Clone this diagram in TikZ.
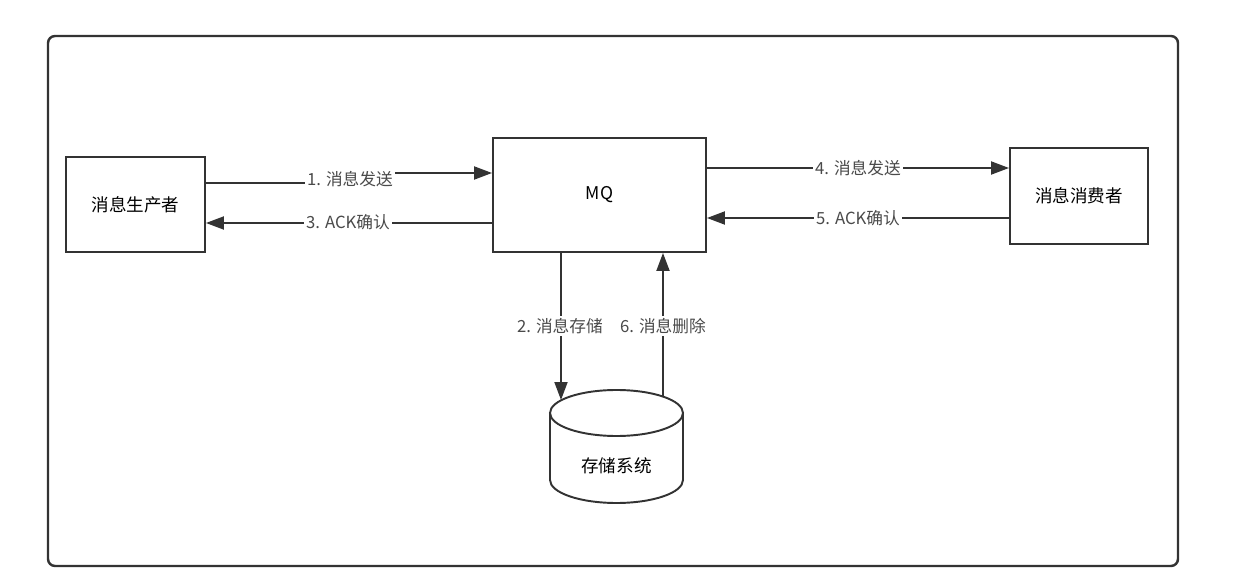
\documentclass[tikz,border=0pt]{standalone}
\usepackage{fontspec}
\setmainfont{Noto Sans CJK SC}
\usepackage{tikz}
\usetikzlibrary{arrows.meta}
\definecolor{edge}{HTML}{333333}
\definecolor{labeltext}{HTML}{4A4A4A}
\tikzset{
  box/.style={rectangle, draw=edge, line width=1.1pt, fill=white, inner sep=0pt,
              font=\fontsize{10}{12}\selectfont},
  lbl/.style={fill=white, inner sep=1pt, text=labeltext, font=\fontsize{9.5}{11}\selectfont},
  arr/.style={-{Triangle[length=3.6mm,width=2.6mm]}, line width=1.1pt, draw=edge},
}

\begin{document}
\begin{tikzpicture}[x=0.02cm, y=-0.02cm]
    \useasboundingbox (0,0) rectangle (1242,588);
    \draw[edge, line width=1.4pt, rounded corners=4pt] (48,36) rectangle (1178,566);

    %% --- endpoints ---
    \node[box, minimum width=2.78cm, minimum height=1.9cm] (prod) at (135.5,204.5) {消息生产者};
    \node[box, minimum width=4.26cm, minimum height=2.28cm] (mq) at (599.5,195) {MQ};
    \node[box, minimum width=2.76cm, minimum height=1.92cm] (cons) at (1079,196) {消息消费者};

    %% --- storage ---
    \draw[edge, line width=1.1pt, fill=white] (550,413) -- (550,480)
        arc[start angle=180, end angle=360, x radius=66.5, y radius=-23] -- (683,413);
    \draw[edge, line width=1.1pt, fill=white] (616.5,413) ellipse[x radius=66.5, y radius=23];
    \node[font=\fontsize{10}{12}\selectfont] (store) at (616.5,466) {存储系统};
    \coordinate (dbin) at (561,400);
    \coordinate (dbout) at (663,397);

    %% --- connectors ---
    \draw[arr] (prod.east |- 0,183) -- (350,183) -- (350,173) -- (mq.west |- 0,173);
    \draw[arr] (mq.west |- 0,223) -- (prod.east |- 0,223);
    \draw[arr] (mq.east |- 0,168) -- (cons.west |- 0,168);
    \draw[arr] (cons.west |- 0,218) -- (mq.east |- 0,218);
    \draw[arr] (mq.south -| 561,0) -- (dbin);
    \draw[arr] (dbout) -- (mq.south -| 663,0);

    %% --- labels ---
    \node[lbl] (l1) at (350,179) {1. 消息发送};
    \node[lbl] (l3) at (348,222) {3. ACK确认};
    \node[lbl] (l4) at (858,168) {4. 消息发送};
    \node[lbl] (l5) at (858,218) {5. ACK确认};
    \node[lbl] (l2) at (560,326) {2. 消息存储};
    \node[lbl] (l6) at (663,326) {6. 消息删除};
\end{tikzpicture}
\end{document}
